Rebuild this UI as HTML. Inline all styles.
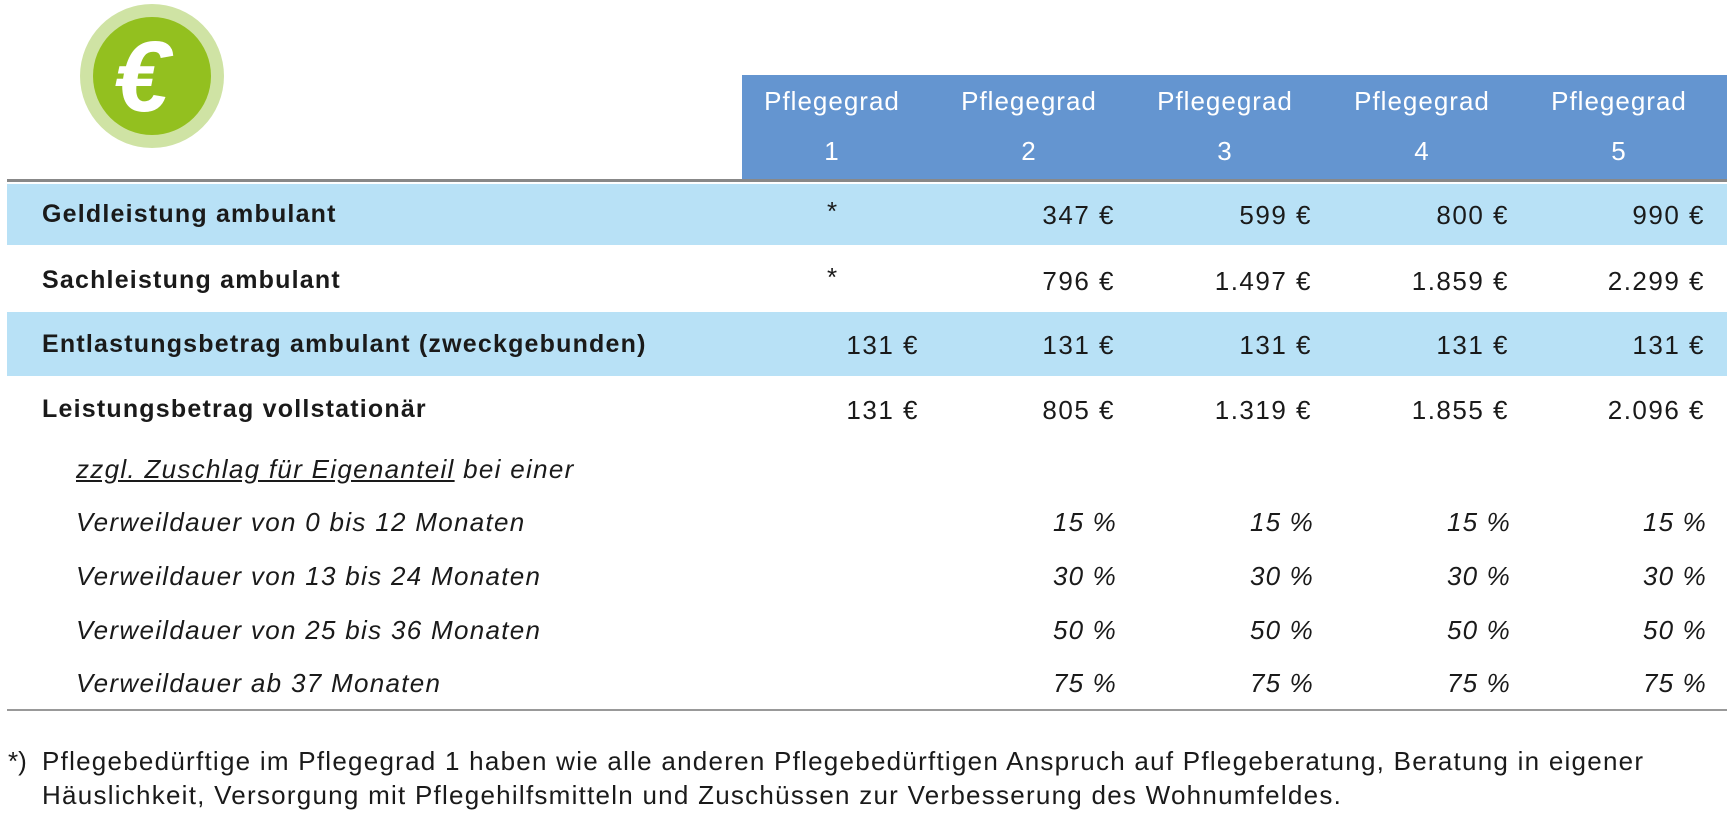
<!DOCTYPE html>
<html><head><meta charset="utf-8">
<style>
body{margin:0;width:1734px;height:824px;background:#fff;position:relative;overflow:hidden;font-family:"Liberation Sans",sans-serif;color:#1a1a1a}
.a{position:absolute;white-space:nowrap}
.hd{color:#fff;font-size:26px;text-align:center;width:170px;letter-spacing:1px}
.b{font-weight:bold;font-size:25px;letter-spacing:1.2px}
.n{font-size:26px;text-align:right;width:150px;letter-spacing:1.5px;margin-right:-1.5px}
.i{font-style:italic;font-size:26px;letter-spacing:1.3px}
.ir{font-style:italic;font-size:26px;text-align:right;width:150px;letter-spacing:1.2px}
</style></head><body>
<div class="a" style="left:80px;top:4px;width:144px;height:144px;border-radius:50%;background:#cfe3a4"></div>
<div class="a" style="left:93px;top:17px;width:118px;height:118px;border-radius:50%;background:#93c01f"></div>
<div class="a" style="left:114px;top:20px;font-size:100px;font-weight:bold;color:#fff;font-style:italic">€</div>

<div class="a" style="left:742px;top:75px;width:985px;height:104px;background:#6495d0"></div>
<div class="a hd" style="left:747px;top:86px">Pflegegrad</div><div class="a hd" style="left:747px;top:136px">1</div>
<div class="a hd" style="left:944px;top:86px">Pflegegrad</div><div class="a hd" style="left:944px;top:136px">2</div>
<div class="a hd" style="left:1140px;top:86px">Pflegegrad</div><div class="a hd" style="left:1140px;top:136px">3</div>
<div class="a hd" style="left:1337px;top:86px">Pflegegrad</div><div class="a hd" style="left:1337px;top:136px">4</div>
<div class="a hd" style="left:1534px;top:86px">Pflegegrad</div><div class="a hd" style="left:1534px;top:136px">5</div>
<div class="a" style="left:7px;top:179px;width:1720px;height:3px;background:#888"></div>

<div class="a" style="left:7px;top:184px;width:1720px;height:61px;background:#b8e1f6"></div>
<div class="a" style="left:7px;top:312px;width:1720px;height:64px;background:#b8e1f6"></div>

<div class="a b" style="left:42px;top:200px">Geldleistung ambulant</div>
<div class="a b" style="left:42px;top:266px">Sachleistung ambulant</div>
<div class="a b" style="left:42px;top:330px">Entlastungsbetrag ambulant (zweckgebunden)</div>
<div class="a b" style="left:42px;top:395px">Leistungsbetrag vollstationär</div>

<div class="a" style="left:812px;top:196px;width:40px;text-align:center;font-size:26px">*</div>
<div class="a n" style="left:965px;top:200px">347 €</div><div class="a n" style="left:1162px;top:200px">599 €</div><div class="a n" style="left:1359px;top:200px">800 €</div><div class="a n" style="left:1555px;top:200px">990 €</div>
<div class="a" style="left:812px;top:262px;width:40px;text-align:center;font-size:26px">*</div>
<div class="a n" style="left:965px;top:266px">796 €</div><div class="a n" style="left:1162px;top:266px">1.497 €</div><div class="a n" style="left:1359px;top:266px">1.859 €</div><div class="a n" style="left:1555px;top:266px">2.299 €</div>
<div class="a n" style="left:769px;top:330px">131 €</div><div class="a n" style="left:965px;top:330px">131 €</div><div class="a n" style="left:1162px;top:330px">131 €</div><div class="a n" style="left:1359px;top:330px">131 €</div><div class="a n" style="left:1555px;top:330px">131 €</div>
<div class="a n" style="left:769px;top:395px">131 €</div><div class="a n" style="left:965px;top:395px">805 €</div><div class="a n" style="left:1162px;top:395px">1.319 €</div><div class="a n" style="left:1359px;top:395px">1.855 €</div><div class="a n" style="left:1555px;top:395px">2.096 €</div>

<div class="a i" style="left:76px;top:454px"><span style="text-decoration:underline">zzgl. Zuschlag für Eigenanteil</span> bei einer</div>
<div class="a i" style="left:76px;top:507px">Verweildauer von 0 bis 12 Monaten</div>
<div class="a i" style="left:76px;top:561px">Verweildauer von 13 bis 24 Monaten</div>
<div class="a i" style="left:76px;top:615px">Verweildauer von 25 bis 36 Monaten</div>
<div class="a i" style="left:76px;top:668px">Verweildauer ab 37 Monaten</div>

<div class="a ir" style="left:967px;top:507px">15 %</div><div class="a ir" style="left:1164px;top:507px">15 %</div><div class="a ir" style="left:1361px;top:507px">15 %</div><div class="a ir" style="left:1557px;top:507px">15 %</div>
<div class="a ir" style="left:967px;top:561px">30 %</div><div class="a ir" style="left:1164px;top:561px">30 %</div><div class="a ir" style="left:1361px;top:561px">30 %</div><div class="a ir" style="left:1557px;top:561px">30 %</div>
<div class="a ir" style="left:967px;top:615px">50 %</div><div class="a ir" style="left:1164px;top:615px">50 %</div><div class="a ir" style="left:1361px;top:615px">50 %</div><div class="a ir" style="left:1557px;top:615px">50 %</div>
<div class="a ir" style="left:967px;top:668px">75 %</div><div class="a ir" style="left:1164px;top:668px">75 %</div><div class="a ir" style="left:1361px;top:668px">75 %</div><div class="a ir" style="left:1557px;top:668px">75 %</div>

<div class="a" style="left:7px;top:709px;width:1720px;height:2px;background:#999"></div>

<div class="a" style="left:8px;top:746px;font-size:26px">*)</div>
<div class="a" style="left:42px;top:746px;font-size:26px;letter-spacing:1.25px">Pflegebedürftige im Pflegegrad 1 haben wie alle anderen Pflegebedürftigen Anspruch auf Pflegeberatung, Beratung in eigener</div>
<div class="a" style="left:42px;top:780px;font-size:26px;letter-spacing:1.25px">Häuslichkeit, Versorgung mit Pflegehilfsmitteln und Zuschüssen zur Verbesserung des Wohnumfeldes.</div>
</body></html>
